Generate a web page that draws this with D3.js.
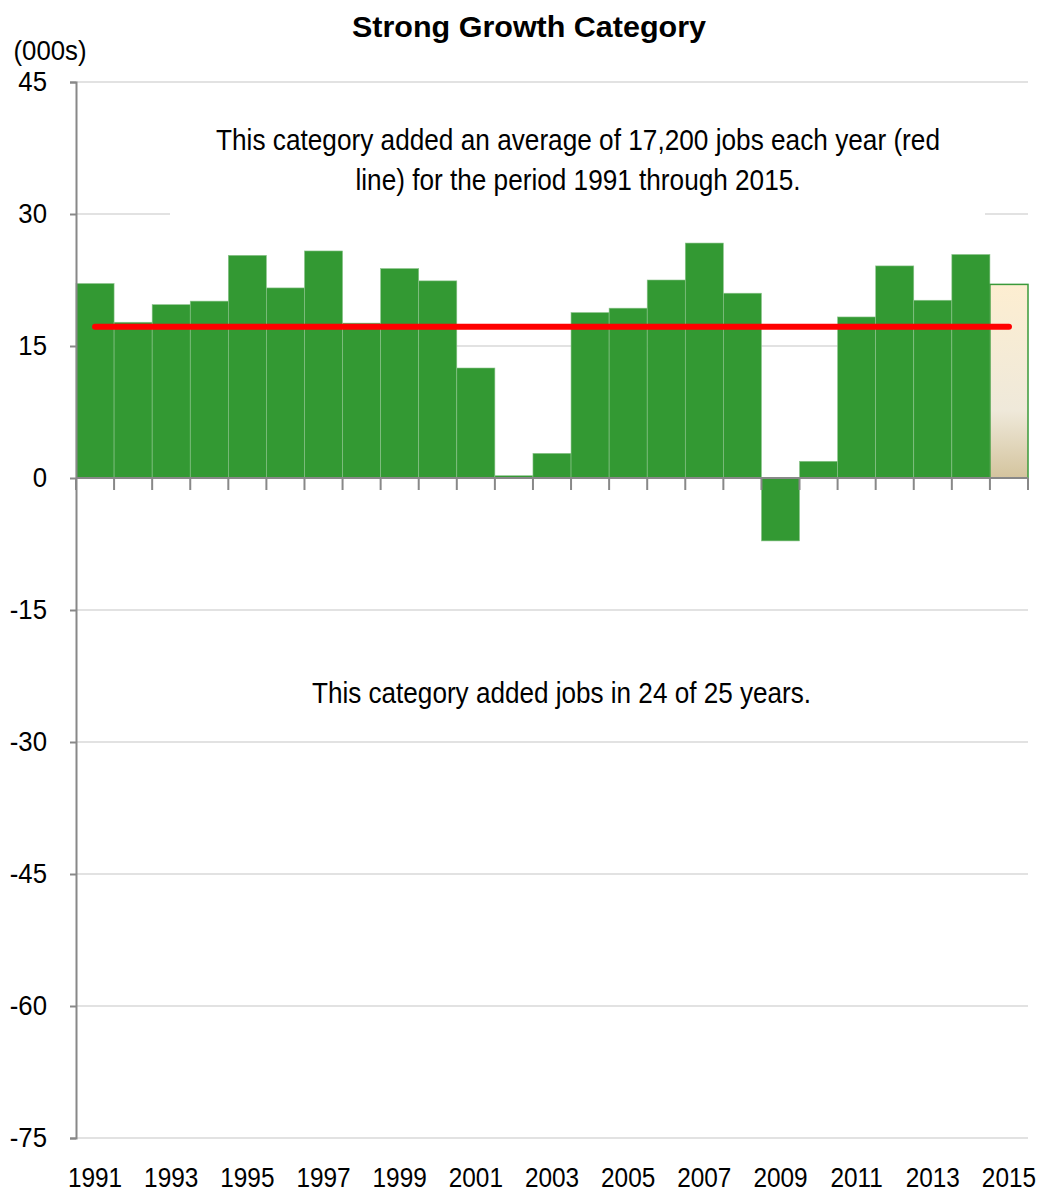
<!DOCTYPE html>
<meta charset="utf-8">
<head>
<script src="https://d3js.org/d3.v7.min.js"></script>
<style>
  body { margin: 0; background: #fff; }
  text { font-family: "Liberation Sans Narrow", "Arial Narrow", "Liberation Sans", sans-serif; fill: #000; }
</style>
</head>
<body>
<div id="chart"></div>
<script>
// data
var years = [1991, 1992, 1993, 1994, 1995, 1996, 1997, 1998, 1999, 2000, 2001, 2002, 2003,
             2004, 2005, 2006, 2007, 2008, 2009, 2010, 2011, 2012, 2013, 2014, 2015];
var jobs = [22.1, 17.7, 19.7, 20.1, 25.3, 21.6, 25.8, 17.6, 23.8, 22.4, 12.5, 0.26, 2.8,
            18.8, 19.3, 22.5, 26.7, 21.0, -7.15, 1.9, 18.3, 24.1, 20.2, 25.4, 22.0];
var average = 17.2;
var yTicks = [45, 30, 15, 0, -15, -30, -45, -60, -75];
var xLabels = [1991, 1993, 1995, 1997, 1999, 2001, 2003, 2005, 2007, 2009, 2011, 2013, 2015];

var W = 1041, H = 1192;
var margin = { top: 82, right: 13, bottom: 54, left: 76 },
    width = W - margin.left - margin.right,
    height = H - margin.top - margin.bottom;
var narrow = 0.87; // squeeze to look like a condensed face

var svg = d3.select("#chart").append("svg")
    .attr("width", W).attr("height", H);

var defs = svg.append("defs");
var grad = defs.append("linearGradient").attr("id", "est")
    .attr("x1", 0).attr("y1", 0).attr("x2", 0).attr("y2", 1);
grad.append("stop").attr("offset", "0%").attr("stop-color", "#fdeed1");
grad.append("stop").attr("offset", "65%").attr("stop-color", "#efe9da");
grad.append("stop").attr("offset", "100%").attr("stop-color", "#d4c49e");

var g = svg.append("g").attr("transform", "translate(" + margin.left + "," + margin.top + ")");

var x = d3.scaleBand().domain(years).range([0, width]).padding(0);
var y = d3.scaleLinear().domain([-75, 45]).range([height, 0]);

// gridlines
g.selectAll(".grid").data(yTicks.filter(function (d) { return d !== 0; }))
  .enter().append("line")
    .attr("x1", 0).attr("x2", width)
    .attr("y1", function (d) { return y(d); })
    .attr("y2", function (d) { return y(d); })
    .attr("stroke", "#d9d9d9").attr("stroke-width", 1.5);

// bars
g.selectAll(".bar").data(years).enter().append("rect")
    .attr("x", function (d) { return x(d); })
    .attr("width", x.bandwidth())
    .attr("y", function (d, i) { return y(Math.max(0, jobs[i])); })
    .attr("height", function (d, i) { return Math.abs(y(jobs[i]) - y(0)); })
    .attr("fill", function (d) { return d === 2015 ? "url(#est)" : "#339933"; })
    .attr("stroke", function (d) { return d === 2015 ? "#3a9a3a" : "#8cc48c"; })
    .attr("stroke-width", function (d) { return d === 2015 ? 1.5 : 0.6; });

// annotation box hides gridline
g.append("rect")
    .attr("x", 94).attr("y", y(41.5))
    .attr("width", 815).attr("height", y(29.3) - y(41.5))
    .attr("fill", "#fff");

// average line
var first = years[0], last = years[years.length - 1];
g.append("line")
    .attr("x1", x(first) + x.bandwidth() / 2)
    .attr("x2", x(last) + x.bandwidth() / 2)
    .attr("y1", y(average)).attr("y2", y(average))
    .attr("stroke", "#ff0000").attr("stroke-width", 6)
    .attr("stroke-linecap", "round");

// y axis
var yAxis = g.append("g")
    .call(d3.axisLeft(y).tickValues(yTicks).tickSize(6).tickFormat(function (d) { return String(d); }));
yAxis.select(".domain").attr("stroke", "#888").attr("stroke-width", 2);
yAxis.selectAll(".tick line").attr("stroke", "#888").attr("stroke-width", 2);
yAxis.selectAll(".tick text")
    .style("font-size", "28px")
    .attr("font-family", null)
    .attr("x", -29 / 0.92)
    .attr("transform", "scale(0.92,1)");

// x axis at zero
var xAxisG = g.append("g").attr("transform", "translate(0," + y(0) + ")");
xAxisG.append("line").attr("x1", 0).attr("x2", width)
    .attr("stroke", "#888").attr("stroke-width", 2);
xAxisG.selectAll(".xt").data(years.concat(["end"])).enter().append("line")
    .attr("x1", function (d) { return d === "end" ? width : x(d); })
    .attr("x2", function (d) { return d === "end" ? width : x(d); })
    .attr("y1", 0).attr("y2", 12)
    .attr("stroke", "#888").attr("stroke-width", 2);

// x labels at the bottom
g.selectAll(".xl").data(xLabels).enter().append("text")
    .attr("x", function (d) { return (x(d) + x.bandwidth() / 2) / narrow; })
    .attr("y", height + 49)
    .attr("transform", "scale(" + narrow + ",1)")
    .attr("text-anchor", "middle")
    .style("font-size", "28px")
    .text(function (d) { return d; });

// fixed-width text helper
function fitText(parent, txt, cx, base, w, size, bold) {
  return parent.append("text")
    .attr("x", cx).attr("y", base)
    .attr("text-anchor", "middle")
    .attr("textLength", w).attr("lengthAdjust", "spacingAndGlyphs")
    .style("font-size", size + "px")
    .style("font-weight", bold ? "bold" : "normal")
    .text(txt);
}

// title and units
fitText(svg, "Strong Growth Category", 529, 37, 354, 30, true);
fitText(svg, "(000s)", 50, 60, 73, 28, false);

// annotations
fitText(svg, "This category added an average of 17,200 jobs each year (red", 578, 150, 724, 30, false);
fitText(svg, "line) for the period 1991 through 2015.", 578, 190, 445, 30, false);
fitText(svg, "This category added jobs in 24 of 25 years.", 561.5, 703, 499, 30, false);
</script>
</body>
